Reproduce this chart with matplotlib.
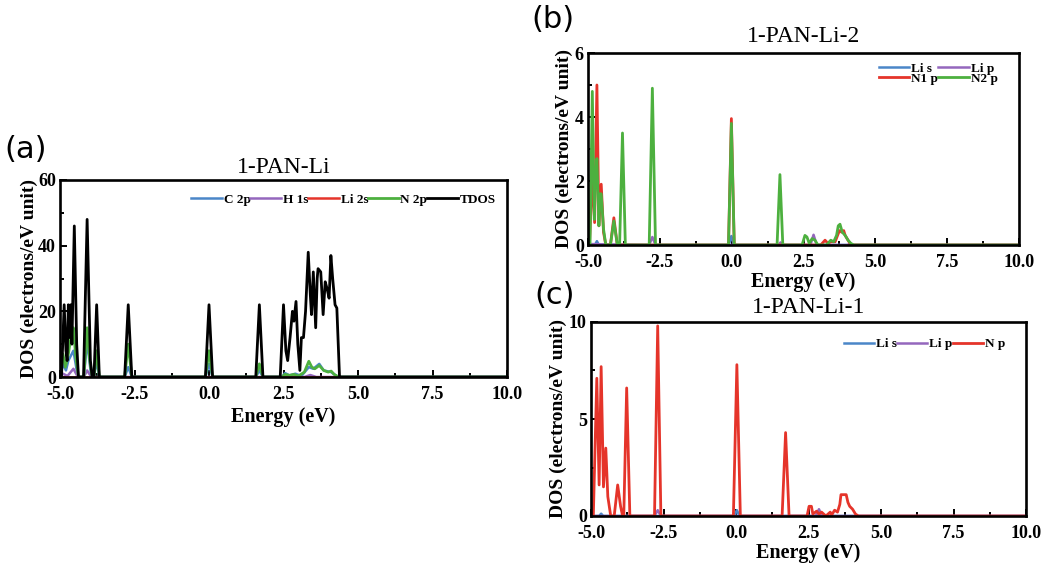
import matplotlib
matplotlib.use("Agg")
import matplotlib.pyplot as plt
from matplotlib.ticker import MultipleLocator

plt.rcParams['font.family'] = ['Liberation Serif', 'DejaVu Serif']

# couleurs des projections
c_bleu = '#4a86c8'
c_violet = '#9467bd'
c_rouge = '#e5342a'
c_vert = '#4db03f'

# ---- (a) 1-PAN-Li ----
a_c2p_e = [-5, -4.9, -4.8, -4.72, -4.55, -4.4, -4.2, -4.09, -3.95, -3.86, -3.77, -3.68, -2.83, -2.71, -2.59,
           -0.12, 0.0, 0.12, 1.57, 1.69, 1.81, 2.45, 2.55, 2.7, 2.9, 3.1, 3.35, 3.5, 3.7, 3.85, 4.1, 4.25, 4.35, 10]
a_c2p_v = [0, 4, 2, 5, 8, 0, 0, 11, 0, 0, 5, 0, 0, 3, 0,
           0, 4, 0, 0, 2, 0, 0, 1.2, 0.5, 1, 0.3, 3, 2.5, 4, 2, 1.5, 0.5, 0, 0]
a_h1s_e = [-5, -4.9, -4.75, -4.55, -4.4, -4.2, -4.09, -3.95, 3.2, 3.4, 3.6, 10]
a_h1s_v = [0, 1, 0.3, 2.5, 0, 0, 2, 0, 0, 0.6, 0, 0]
a_li2s_e = [-5, 10]
a_li2s_v = [0, 0]
a_n2p_e = [-5, -4.9, -4.82, -4.72, -4.62, -4.55, -4.47, -4.38, -4.2, -4.09, -4.0, -3.92, -3.86, -3.77, -3.68,
           -2.83, -2.71, -2.59, -0.12, 0.0, 0.12, 1.57, 1.69, 1.81, 2.45, 2.55, 2.7, 2.85, 3.0, 3.2, 3.35, 3.45,
           3.55, 3.7, 3.85, 4.0, 4.1, 4.2, 4.35, 10]
a_n2p_v = [0, 7, 3, 7, 13, 15, 6, 0, 0, 15, 5, 0, 0, 8, 0,
           0, 10, 0, 0, 8, 0, 0, 4, 0, 0, 0.8, 0.5, 0.8, 0.3, 1.5, 4.8, 3,
           2.5, 3.5, 2, 1.5, 1.8, 0.8, 0, 0]
a_tdos_e = [-5, -4.95, -4.86, -4.8, -4.76, -4.72, -4.67, -4.64, -4.6, -4.52, -4.44, -4.38, -4.21, -4.09, -3.98,
            -3.92, -3.86, -3.77, -3.68, -2.83, -2.71, -2.59, -0.12, 0.0, 0.12, 1.57, 1.69, 1.81, 2.39, 2.5, 2.58,
            2.64, 2.72, 2.8, 2.85, 2.92, 2.98, 3.05, 3.1, 3.17, 3.24, 3.33, 3.4, 3.44, 3.5, 3.58, 3.63, 3.66,
            3.75, 3.83, 3.9, 3.96, 4.03, 4.09, 4.15, 4.23, 4.29, 4.38, 10]
a_tdos_v = [0, 0, 22, 8, 5, 22, 12, 22, 10, 46, 10, 0, 0, 48, 5,
            0, 0, 22, 0, 0, 22, 0, 0, 22, 0, 0, 22, 0, 0, 22, 8,
            5, 12, 20, 17, 23, 10, 2, 12, 12, 20, 38, 25, 19, 32, 15, 30, 33,
            32, 19, 29, 27, 24, 37, 30, 22, 21, 0, 0]

# ---- (b) 1-PAN-Li-2 ----
b_lis_e = [-5, -4.76, -4.69, -4.62, -0.1, -0.01, 0.08, 10]
b_lis_v = [0, 0, 0.12, 0, 0, 0.28, 0, 0]
b_lip_e = [-5, -2.87, -2.76, -2.65, 1.64, 1.7, 1.76, 2.74, 2.85, 2.96, 4.05, 4.1, 4.2, 10]
b_lip_v = [0.03, 0, 0.25, 0, 0, 0.08, 0, 0, 0.32, 0, 0, 0.05, 0, 0]
b_n1p_e = [-5, -4.95, -4.85, -4.77, -4.69, -4.62, -4.54, -4.46, -4.38, -4.22, -4.1, -3.98,
           -0.11, -0.01, 0.09, 3.1, 3.25, 3.35, 3.45, 3.6, 3.75, 3.83, 3.9, 3.95, 4.05, 4.15, 10]
b_n1p_v = [0, 0, 2.2, 0.7, 5.0, 0.6, 1.9, 0.4, 0, 0, 0.85, 0,
           0, 3.95, 0, 0, 0.15, 0.05, 0.1, 0.1, 0.45, 0.4, 0.45, 0.3, 0.15, 0, 0]
b_n2p_e = [-5, -4.93, -4.85, -4.78, -4.75, -4.69, -4.62, -4.58, -4.54, -4.46, -4.38, -4.22, -4.1, -3.98,
           -3.9, -3.8, -3.7, -2.87, -2.76, -2.65, -0.11, -0.01, 0.09, 1.58, 1.68, 1.78, 2.45, 2.55, 2.62,
           2.7, 2.8, 2.9, 3.0, 3.3, 3.45, 3.55, 3.65, 3.71, 3.77, 3.85, 3.95, 4.05, 4.15, 4.25, 10]
b_n2p_v = [0, 0, 4.8, 0.8, 2.0, 2.7, 0.6, 1.6, 1.6, 0.5, 0, 0, 0.75, 0,
           0, 3.5, 0, 0, 4.9, 0, 0, 3.8, 0, 0, 2.2, 0, 0, 0.3, 0.25,
           0.05, 0.2, 0.15, 0, 0, 0.15, 0.1, 0.3, 0.6, 0.65, 0.4, 0.3, 0.15, 0.05, 0, 0]

# ---- (c) 1-PAN-Li-1 ----
c_lis_e = [-5, -4.72, -4.65, -4.58, -0.06, 0.03, 0.12, 10]
c_lis_v = [0, 0, 0.12, 0, 0, 0.3, 0, 0]
c_lip_e = [-5, -2.81, -2.7, -2.59, 2.75, 2.86, 2.97, 10]
c_lip_v = [0, 0, 0.3, 0, 0, 0.35, 0, 0]
c_np_e = [-5, -4.92, -4.8, -4.72, -4.65, -4.57, -4.49, -4.42, -4.32, -4.2, -4.08, -3.98, -3.91, -3.87,
          -3.77, -3.66, -2.81, -2.7, -2.59, -0.09, 0.03, 0.15, 1.59, 1.71, 1.83, 2.45, 2.52, 2.6, 2.65,
          2.78, 2.86, 2.95, 3.1, 3.25, 3.3, 3.4, 3.5, 3.58, 3.62, 3.69, 3.8, 3.86, 3.92, 4.02, 4.12, 4.22, 10]
c_np_v = [0, 0, 7.1, 1.6, 7.7, 1.5, 3.5, 1.0, 0, 0, 1.6, 0.5, 0, 0,
          6.6, 0, 0, 9.8, 0, 0, 7.8, 0, 0, 4.3, 0, 0, 0.5, 0.5, 0.1,
          0.25, 0.1, 0.2, 0, 0.2, 0.05, 0.3, 0.2, 0.6, 1.1, 1.1, 1.1, 0.7, 0.5, 0.35, 0.1, 0, 0]

W, H = 1062, 565
fig = plt.figure(figsize=(W / 100, H / 100), dpi=100)


def boite(x0, y0, x1, y1):
    # position en pixels -> coordonnees figure
    return [x0 / W, 1 - y1 / H, (x1 - x0) / W, (y1 - y0) / H]


def habiller(ax, titre, ymax, ymaj, ymin, titre_pad, ylab_x, xlab_y):
    ax.set_xlim(-5, 10)
    ax.set_ylim(0, ymax)
    ax.xaxis.set_major_locator(MultipleLocator(2.5))
    ax.xaxis.set_minor_locator(MultipleLocator(1.25))
    ax.yaxis.set_major_locator(MultipleLocator(ymaj))
    ax.yaxis.set_minor_locator(MultipleLocator(ymin))
    ax.xaxis.set_major_formatter(plt.FormatStrFormatter('%.1f'))
    ax.tick_params(which='both', direction='in', top=False, right=False, width=1.4)
    ax.tick_params(which='major', length=5, labelsize=13)
    ax.tick_params(axis='x', which='major', pad=6.5)
    ax.tick_params(axis='y', which='major', pad=3)
    ax.tick_params(which='minor', length=3)
    for lab in ax.get_xticklabels() + ax.get_yticklabels():
        lab.set_fontweight('bold')
    for s in ax.spines.values():
        s.set_linewidth(1.9)
    ax.set_xlabel('Energy (eV)', fontsize=14.5, fontweight='bold')
    ax.set_ylabel('DOS (electrons/eV unit)', fontsize=14, fontweight='bold')
    ax.xaxis.set_label_coords(0.5, xlab_y)
    ax.yaxis.set_label_coords(ylab_x, 0.5)
    ax.set_title(titre, fontsize=17, pad=titre_pad)


def legende(ax, poignees, ncol, x, y):
    ax.legend(handles=poignees, loc='upper right', bbox_to_anchor=(x, y), ncol=ncol, frameon=False,
              prop={'weight': 'bold', 'size': 9.5}, handlelength=2.3, handletextpad=0.15,
              columnspacing=0.0, labelspacing=-0.15, borderaxespad=0, borderpad=0)


# (a)
ax_a = fig.add_axes(boite(60, 180, 507, 377))
la1, = ax_a.plot(a_c2p_e, a_c2p_v, color=c_bleu, lw=1.8, label='C 2p')
la2, = ax_a.plot(a_h1s_e, a_h1s_v, color=c_violet, lw=1.8, label='H 1s')
la3, = ax_a.plot(a_li2s_e, a_li2s_v, color=c_rouge, lw=1.8, label='Li 2s')
la4, = ax_a.plot(a_n2p_e, a_n2p_v, color=c_vert, lw=2.0, label='N 2p')
la5, = ax_a.plot(a_tdos_e, a_tdos_v, color='black', lw=2.0, label='TDOS')
habiller(ax_a, '1-PAN-Li', 60, 20, 10, 5, -0.049, -0.15)
legende(ax_a, [la1, la2, la3, la4, la5], 5, 0.975, 0.93)

# (b)
ax_b = fig.add_axes(boite(588, 53, 1019, 245))
lb1, = ax_b.plot(b_lis_e, b_lis_v, color=c_bleu, lw=1.8, label='Li s')
lb2, = ax_b.plot(b_lip_e, b_lip_v, color=c_violet, lw=1.8, label='Li p')
lb3, = ax_b.plot(b_n1p_e, b_n1p_v, color=c_rouge, lw=2.0, label='N1 p')
lb4, = ax_b.plot(b_n2p_e, b_n2p_v, color=c_vert, lw=2.0, label='N2 p')
habiller(ax_b, '1-PAN-Li-2', 6, 2, 1, 8, -0.035, -0.14)
legende(ax_b, [lb1, lb3, lb2, lb4], 2, 0.95, 0.95)

# (c)
ax_c = fig.add_axes(boite(591, 322, 1026, 516))
lc1, = ax_c.plot(c_lis_e, c_lis_v, color=c_bleu, lw=1.8, label='Li s')
lc2, = ax_c.plot(c_lip_e, c_lip_v, color=c_violet, lw=1.8, label='Li p')
lc3, = ax_c.plot(c_np_e, c_np_v, color=c_rouge, lw=2.0, label='N p')
habiller(ax_c, '1-PAN-Li-1', 10, 5, 2.5, 6.5, -0.055, -0.139)
legende(ax_c, [lc1, lc2, lc3], 3, 0.952, 0.918)

# lettres des panneaux
fig.text(4 / W, 1 - 150 / H, '(a)', family='DejaVu Sans', fontsize=22, va='center', ha='left')
fig.text(531 / W, 1 - 20 / H, '(b)', family='DejaVu Sans', fontsize=22, va='center', ha='left')
fig.text(534 / W, 1 - 296 / H, '(c)', family='DejaVu Sans', fontsize=22, va='center', ha='left')

fig.savefig('out.png', dpi=100)
